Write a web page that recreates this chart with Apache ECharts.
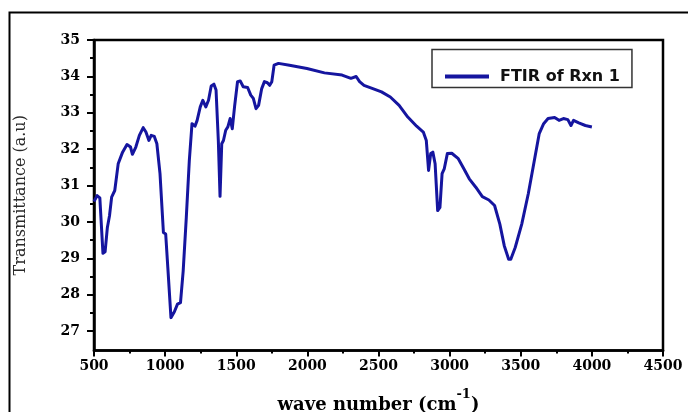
<!DOCTYPE html>
<html>
<head>
<meta charset="utf-8">
<script src="https://cdn.jsdelivr.net/npm/echarts@6/dist/echarts.min.js"></script>
<style>
  html, body { margin: 0; padding: 0; background: #fff; }
  #chart { width: 688px; height: 412px; }
</style>
</head>
<body>
<div id="chart"></div>
<script>
// 数据: 波数 与 透过率
const waveNumbers = [
  500, 522, 541, 563, 578, 594, 609, 624, 646, 670, 701, 732, 757, 770, 794, 819, 846, 865, 886, 902,
  924, 942, 964, 988, 1004, 1019, 1041, 1065, 1087, 1108, 1127, 1149, 1170, 1189, 1210, 1225, 1247, 1265, 1286, 1305,
  1324, 1343, 1358, 1374, 1386, 1398, 1410, 1426, 1441, 1457, 1472, 1488, 1509, 1528, 1549, 1580, 1602, 1620, 1639, 1657,
  1679, 1698, 1719, 1735, 1750, 1766, 1797, 1874, 1997, 2120, 2244, 2306, 2343, 2367, 2398, 2460, 2521, 2583, 2645, 2706,
  2768, 2815, 2836, 2852, 2867, 2882, 2898, 2916, 2932, 2947, 2962, 2984, 3015, 3061, 3101, 3138, 3184, 3230, 3276, 3316,
  3353, 3384, 3415, 3430, 3461, 3507, 3553, 3600, 3630, 3661, 3692, 3738, 3769, 3800, 3831, 3853, 3871, 3908, 3954, 4000
]
const transmittance = [
  30.58, 30.74, 30.68, 29.16, 29.2, 29.87, 30.19, 30.7, 30.88, 31.61, 31.93, 32.14, 32.07, 31.87, 32.07, 32.39, 32.6, 32.48, 32.25, 32.39,
  32.36, 32.16, 31.34, 29.73, 29.69, 28.77, 27.4, 27.56, 27.77, 27.81, 28.68, 30.15, 31.7, 32.71, 32.64, 32.8, 33.17, 33.35, 33.17, 33.35,
  33.74, 33.79, 33.63, 32.25, 30.72, 32.16, 32.25, 32.53, 32.62, 32.85, 32.57, 33.17, 33.86, 33.88, 33.72, 33.7, 33.49, 33.4, 33.12, 33.21,
  33.67, 33.86, 33.83, 33.76, 33.86, 34.31, 34.36, 34.31, 34.22, 34.1, 34.04, 33.95, 34.0, 33.86, 33.76, 33.67, 33.58, 33.44, 33.21, 32.89,
  32.64, 32.48, 32.25, 31.43, 31.89, 31.93, 31.61, 30.33, 30.42, 31.34, 31.47, 31.89, 31.9, 31.75, 31.47, 31.2, 30.97, 30.71, 30.62, 30.47,
  29.96, 29.37, 29.0, 29.0, 29.32, 29.96, 30.79, 31.8, 32.44, 32.71, 32.85, 32.88, 32.8, 32.85, 32.82, 32.66, 32.8, 32.73, 32.66, 32.62
]
const seriesName = 'FTIR of Rxn 1'

const myChart = echarts.init(document.querySelector('#chart'))
const tickFont = { fontFamily: 'DejaVu Serif', fontWeight: 'bold', fontSize: 14, color: '#000' }

const option = {
  backgroundColor: '#fff',
  animation: false,
  // 外框
  graphic: [
    {
      type: 'rect',
      shape: { x: 9.5, y: 12.5, width: 700, height: 500 },
      style: { fill: 'none', stroke: '#000', lineWidth: 2 },
      z: -1
    }
  ],
  grid: [
    // 数据网格 (26.5 ~ 35)
    { left: 94, right: 25, top: 40, bottom: 61.5, show: true, borderColor: '#000', borderWidth: 2.5, outerBoundsMode: 'none' },
    // 只画 y 轴刻度的网格 (27 ~ 35)
    { left: 94, right: 25, top: 40, bottom: 81, outerBoundsMode: 'none' }
  ],
  legend: {
    data: [seriesName],
    left: 432,
    top: 49.5,
    icon: 'rect',
    itemWidth: 44,
    itemHeight: 4,
    padding: [19, 12, 3, 13],
    borderColor: '#333',
    borderWidth: 1.5,
    textStyle: { fontFamily: 'DejaVu Sans', fontWeight: 'bold', fontSize: 16, color: '#111', padding: [0, 0, 0, 6] }
  },
  xAxis: [
    {
      type: 'value',
      gridIndex: 0,
      min: 500,
      max: 4500,
      interval: 500,
      axisLine: { show: true, lineStyle: { color: '#000', width: 2.5 } },
      axisTick: { show: true, length: 6, lineStyle: { color: '#000', width: 2 } },
      minorTick: { show: true, splitNumber: 2, length: 3, lineStyle: { color: '#000', width: 2 } },
      splitLine: { show: false },
      axisLabel: { ...tickFont, margin: 9, formatter: v => String(v) },
      name: '{a|wave number (cm}{b|-1}{a|)}',
      nameLocation: 'middle',
      nameGap: 38,
      nameTextStyle: {
        rich: {
          a: { fontFamily: 'DejaVu Serif', fontWeight: 'bold', fontSize: 18, lineHeight: 26, verticalAlign: 'bottom', color: '#000' },
          b: { fontFamily: 'DejaVu Serif', fontWeight: 'bold', fontSize: 13, lineHeight: 26, verticalAlign: 'top', color: '#000' }
        }
      }
    },
    { type: 'value', gridIndex: 1, min: 500, max: 4500, show: false }
  ],
  yAxis: [
    {
      type: 'value',
      gridIndex: 0,
      min: 26.5,
      max: 35,
      interval: 0.5,
      axisLine: { show: true, lineStyle: { color: '#000', width: 2.5 } },
      axisTick: { show: false },
      axisLabel: { show: false },
      splitLine: { show: false },
      name: 'Transmittance (a.u)',
      nameLocation: 'middle',
      nameRotate: 90,
      nameGap: 65,
      nameTextStyle: { fontFamily: 'DejaVu Serif', fontSize: 16, color: '#2a2a2a' }
    },
    {
      type: 'value',
      gridIndex: 1,
      min: 27,
      max: 35,
      interval: 1,
      axisLine: { show: false },
      axisTick: { show: true, length: 7, lineStyle: { color: '#000', width: 2 } },
      minorTick: { show: true, splitNumber: 2, length: 4, lineStyle: { color: '#000', width: 2 } },
      splitLine: { show: false },
      axisLabel: { ...tickFont, margin: 14 }
    }
  ],
  series: [
    {
      name: seriesName,
      type: 'line',
      xAxisIndex: 0,
      yAxisIndex: 0,
      showSymbol: false,
      color: '#15159f',
      lineStyle: { width: 3, color: '#15159f', join: 'round' },
      data: waveNumbers.map((x, i) => [x, transmittance[i]])
    }
  ]
}
myChart.setOption(option)
</script>
</body>
</html>
